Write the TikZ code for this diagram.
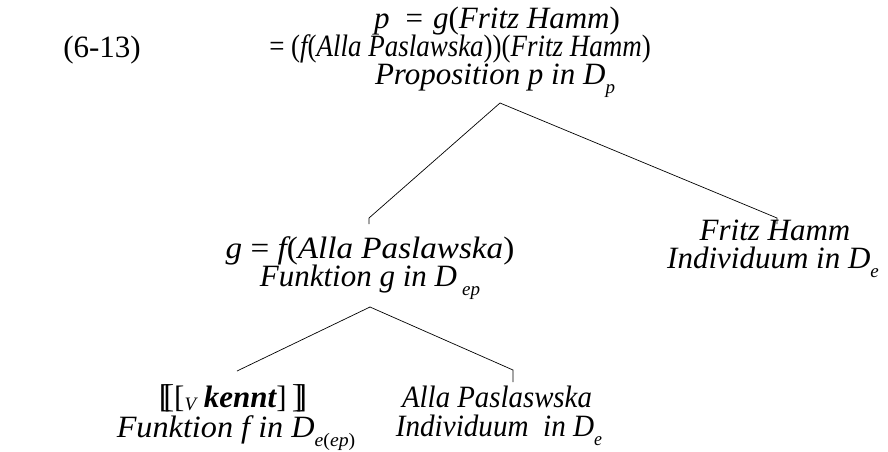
\documentclass[tikz,border=0pt]{standalone}
\usepackage{graphicx}
\usepackage{fontspec}
\setmainfont{Liberation Serif}
\newfontfamily\treefont{Liberation Serif}
% upright pieces inside the italic text, and the lowered index
\newcommand{\upr}[1]{{\upshape #1}}
\newcommand{\dsub}[1]{\raisebox{-0.3em}{\fontsize{19}{19}\selectfont #1}}
\newcommand{\dblopen}{{\upshape\fontsize{33}{33}\selectfont\makebox[0pt][l]{[}\hspace{0.13em}[}}
\newcommand{\dblclose}{{\upshape\fontsize{33}{33}\selectfont\makebox[0pt][l]{]}\hspace{0.13em}]}}
\begin{document}
\begin{tikzpicture}[x=1pt,y=-1pt,
    txt/.style={anchor=base,inner sep=0pt,font=\treefont\fontsize{31}{28}\selectfont\itshape},
    branch/.style={line width=0.7pt}]
  \useasboundingbox (0,0) rectangle (888,451);

  % root
  \node[txt] (num) at (102,57) {\upr{(6-13)}};
  \node[txt] (p-a) at (497,28) {p\hspace{16pt}\upr{=}\hspace{10pt}g\upr{(}Fritz Hamm\upr{)}};
  \node[txt] (p-b) at (460,56) {\scalebox{0.87}[1]{\upr{= (}f\upr{(}Alla Paslawska\upr{))(}Fritz Hamm\upr{)}}};
  \node[txt] (p-c) at (495,84) {Proposition p in D\dsub{p}};

  % middle level
  \node[txt] (g-a) at (370,258) {\scalebox{1.07}[1]{g \upr{=} f\upr{(}Alla Paslawska\upr{)}}};
  \node[txt] (g-b) at (370,286) {Funktion g in D\,\dsub{ep}};
  \node[txt] (fh-a) at (775,240) {Fritz Hamm};
  \node[txt] (fh-b) at (773,268) {Individuum in D\dsub{e}};

  % bottom level
  \node[txt] (k-a) at (233,407) {\dblopen\upr{[}\raisebox{-0.1em}{\fontsize{19}{19}\selectfont V} \textbf{kennt}\upr{]}\,\dblclose};
  \node[txt] (k-b) at (236,437) {\scalebox{1.04}[1]{Funktion f in D\dsub{e\upr{(}ep\upr{)}}}};
  \node[txt] (ap-a) at (497,407) {\scalebox{0.93}[1]{Alla Paslaswska}};
  \node[txt] (ap-b) at (499,436) {\scalebox{0.94}[1]{Individuum\ \ in D\dsub{e}}};

  % branch points
  \coordinate (p-foot) at (500,103);
  \coordinate (g-head) at (369,218);
  \coordinate (g-tick) at (369,224);
  \coordinate (fh-head) at (777,218);
  \coordinate (fh-tick) at (777,224);
  \coordinate (g-foot) at (370,307);
  \coordinate (k-head) at (237,371);
  \coordinate (ap-head) at (513,370);
  \coordinate (ap-tick) at (513,382);

  \draw[branch] (p-foot) -- (g-head) -- (g-tick);
  \draw[branch] (p-foot) -- (fh-head) -- (fh-tick);
  \draw[branch] (g-foot) -- (k-head);
  \draw[branch] (g-foot) -- (ap-head) -- (ap-tick);
\end{tikzpicture}
\end{document}
